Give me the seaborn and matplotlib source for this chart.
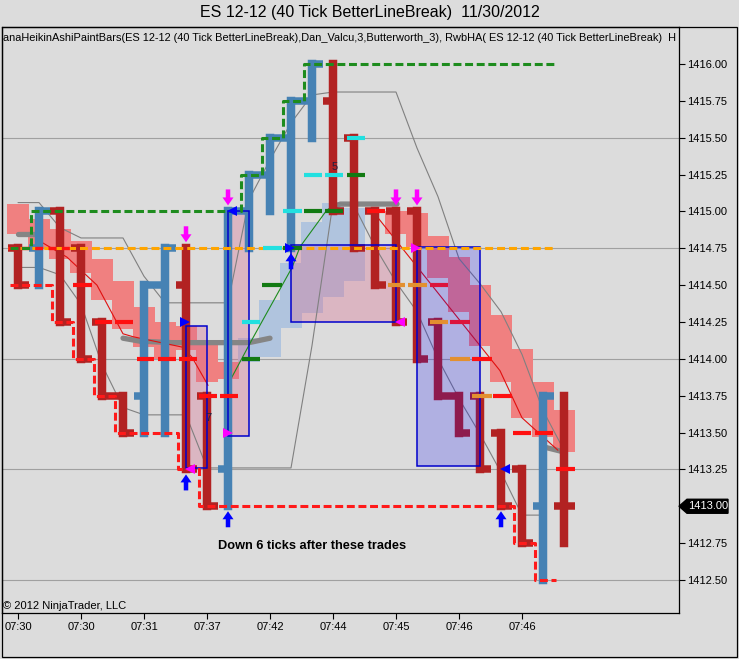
import matplotlib
matplotlib.use("Agg")
import matplotlib.pyplot as plt
import matplotlib.transforms as mtransforms
from matplotlib.patches import Rectangle, Polygon, FancyArrow
import numpy as np
import pandas as pd
import seaborn as sns

# ------------------------------------------------------------------ data
TITLE = "ES 12-12 (40 Tick BetterLineBreak)  11/30/2012"
INDICATOR_LABEL = ("anaHeikinAshiPaintBars(ES 12-12 (40 Tick BetterLineBreak),Dan_Valcu,3,"
                   "Butterworth_3), RwbHA( ES 12-12 (40 Tick BetterLineBreak)  H")
NOTE = "Down 6 ticks after these trades"
NOTE_BAR, NOTE_PRICE = 9.52, 1412.73
COPYRIGHT = "\u00a9 2012 NinjaTrader, LLC"
LAST_PRICE = 1413.00

bar_index = list(range(27))
bar_open = [1414.75, 1414.75, 1415.00, 1414.75, 1414.25, 1413.75, 1413.75, 1414.50, 1414.50,
            1413.75, 1413.25, 1415.00, 1415.25, 1415.50, 1415.75, 1415.75, 1415.50, 1415.00,
            1415.00, 1415.00, 1414.25, 1413.75, 1413.75, 1413.50, 1413.25, 1413.00, 1413.00]
bar_high = [1414.75, 1415.00, 1415.00, 1414.75, 1414.25, 1413.75, 1414.50, 1414.75, 1414.75,
            1413.75, 1415.00, 1415.25, 1415.50, 1415.75, 1416.00, 1416.00, 1415.50, 1415.00,
            1415.00, 1415.00, 1414.25, 1413.75, 1413.75, 1413.50, 1413.25, 1413.75, 1413.75]
bar_low = [1414.50, 1414.50, 1414.25, 1414.00, 1413.75, 1413.50, 1413.50, 1413.50, 1413.25,
           1413.00, 1413.00, 1414.75, 1415.00, 1414.75, 1415.50, 1415.00, 1414.75, 1414.50,
           1414.25, 1414.00, 1413.75, 1413.50, 1413.25, 1413.00, 1412.75, 1412.50, 1412.75]
bar_close = [1414.50, 1415.00, 1414.25, 1414.00, 1413.75, 1413.50, 1414.50, 1414.75, 1413.25,
             1413.00, 1415.00, 1415.25, 1415.50, 1415.75, 1416.00, 1415.00, 1414.75, 1414.50,
             1414.25, 1414.00, 1413.75, 1413.50, 1413.25, 1413.00, 1412.75, 1413.75, 1413.00]
bar_dir = ["down", "up", "down", "down", "down", "down", "up", "up", "down", "down", "up", "up",
           "up", "up", "up", "down", "down", "down", "down", "down", "down", "down", "down",
           "down", "down", "up", "down"]

# Heikin-Ashi bodies (smoothed) per bar
ha_top = [1415.05, 1414.95, 1414.88, 1414.80, 1414.68, 1414.53, 1414.35, 1414.25, 1414.22,
          1414.12, 1413.98, 1414.14, 1414.40, 1414.65, 1414.93, 1415.06, 1415.02, np.nan,
          1415.00, 1414.99, 1414.83, 1414.69, 1414.50, 1414.30, 1414.07, 1413.84, 1413.65]
ha_bottom = [1414.85, 1414.75, 1414.68, 1414.58, 1414.40, 1414.20, 1414.08, 1414.00, 1414.06,
             1413.84, 1413.86, 1413.98, 1414.01, 1414.21, 1414.31, 1414.42, 1414.53, np.nan,
             1414.85, 1414.76, 1414.55, 1414.32, 1414.09, 1413.84, 1413.60, 1413.47, 1413.37]
ha_dir = ["down", "down", "down", "down", "down", "down", "down", "down", "down", "down", "down",
          "up", "up", "up", "up", "up", "up", "none",
          "down", "down", "down", "down", "down", "down", "down", "down", "down"]

# trailing stops (bars 0..25)
green_stop = [1414.75, 1415.00, 1415.00, 1415.00, 1415.00, 1415.00, 1415.00, 1415.00, 1415.00,
              1415.00, 1415.00, 1415.25, 1415.50, 1415.75, 1416.00, 1416.00, 1416.00, 1416.00,
              1416.00, 1416.00, 1416.00, 1416.00, 1416.00, 1416.00, 1416.00, 1416.00]
red_stop = [1414.50, 1414.50, 1414.25, 1414.00, 1413.75, 1413.50, 1413.50, 1413.50, 1413.25,
            1413.00, 1413.00, 1413.00, 1413.00, 1413.00, 1413.00, 1413.00, 1413.00, 1413.00,
            1413.00, 1413.00, 1413.00, 1413.00, 1413.00, 1413.00, 1412.75, 1412.50]
orange_level = 1414.75

# thin smoothing lines
gray_upper = [1415.06, 1415.06, 1414.89, 1414.82, 1414.82, 1414.82, 1414.56, 1414.38, 1414.38,
              1414.38, 1414.38, 1415.08, 1415.35, 1415.60, 1415.79, 1415.81, 1415.81, 1415.81,
              1415.81, 1415.43, 1415.10, 1414.68, 1414.51, 1414.32, 1414.03, 1413.65, 1413.38]
gray_lower = [1414.62, 1414.62, 1414.57, 1414.37, 1413.96, 1413.67, 1413.62, 1413.62, 1413.62,
              1413.26, 1413.26, 1413.26, 1413.26, 1413.26, 1414.09, 1415.06, 1415.04, 1414.76,
              1414.52, 1414.32, 1414.00, 1413.73, 1413.49, 1413.23, 1412.94, 1412.94]
red_thin_left_x = [0.9, 2.33, 3.76, 5.0, 5.48, 7.81, 8.29, 9.05]
red_thin_left_y = [1414.81, 1414.69, 1414.50, 1414.17, 1414.15, 1414.08, 1414.01, 1413.82]
red_thin_right_x = [16.9, 22.95, 24.0, 25.71]
red_thin_right_y = [1415.00, 1413.92, 1413.60, 1413.38]
green_thin_x = [10.05, 11.14, 13.05, 13.43, 14.71, 15.05]
green_thin_y = [1413.84, 1414.13, 1414.62, 1414.76, 1415.01, 1415.04]

# thick gray flat segments
thick_gray_x = [[0.0, 0.9], [5.0, 5.8, 7.3, 11.0, 12.0], [15.0, 15.35, 18.05], [25.1, 25.95]]
thick_gray_y = [[1414.85, 1414.85], [1414.14, 1414.12, 1414.11, 1414.11, 1414.14],
                [1415.03, 1415.05, 1415.05], [1413.40, 1413.37]]

# trade rectangles
rect_x0 = [8, 10, 13, 19]
rect_x1 = [9, 11, 18, 22]
rect_low = [1413.26, 1413.48, 1414.25, 1413.27]
rect_high = [1414.22, 1415.00, 1414.77, 1414.76]
rect_side = ["long", "long", "long", "short"]

# signal arrows
sell_arrow_bars = [8, 10, 18, 19]
buy_arrow_bars = [8, 10, 13, 23]

# small entry / exit triangles
tri_x = [7.93, 10.21, 12.93, 23.17, 9.98, 8.21, 18.17, 18.93]
tri_y = [1414.25, 1415.00, 1414.75, 1413.25, 1413.50, 1413.25, 1414.25, 1414.75]
tri_dir = ["right", "left", "right", "left", "right", "left", "left", "right"]
tri_kind = ["entry", "entry", "entry", "entry", "exit", "exit", "exit", "exit"]

# short level markers
mk_level = [1414.75, 1414.50, 1414.25, 1414.25, 1414.00, 1414.00, 1414.00, 1413.75, 1413.75,
            1414.25, 1414.00, 1414.75, 1414.50, 1415.00, 1414.75, 1415.25, 1415.25, 1415.00,
            1415.00, 1415.50, 1415.25, 1415.00, 1414.50, 1414.50, 1414.50, 1414.25, 1414.25,
            1414.00, 1414.00, 1413.75, 1413.75, 1413.50, 1413.50, 1413.25]
mk_x0 = [-0.48, 2.62, 3.67, 4.62, 5.67, 6.67, 7.67, 8.62, 9.62,
         10.67, 10.67, 11.67, 11.62, 12.62, 12.62, 13.62, 14.62, 13.62,
         14.62, 15.67, 15.67, 16.62, 17.62, 18.57, 19.62, 19.62, 20.57,
         20.57, 21.62, 21.62, 22.62, 23.57, 24.62, 25.62]
mk_x1 = [2.48, 3.52, 4.48, 5.48, 6.48, 7.52, 8.52, 9.48, 10.48,
         11.52, 11.52, 12.57, 12.57, 13.52, 13.52, 14.48, 15.48, 14.48,
         15.48, 16.52, 16.52, 17.48, 18.43, 19.48, 20.48, 20.48, 21.52,
         21.52, 22.57, 22.57, 23.52, 24.43, 25.48, 26.52]
mk_kind = ["reddash", "red", "red", "red", "red", "red", "red", "red", "red",
           "cyan", "green", "cyan", "green", "cyan", "green", "cyan", "cyan", "green",
           "green", "cyan", "green", "red", "orange", "orange", "crimson", "orange", "crimson",
           "orange", "red", "orange", "red", "red", "red", "red"]

label_text = ["7", "5"]
label_x = [9.05, 15.07]
label_y = [1413.60, 1415.30]

time_tick_bars = [0, 3, 6, 9, 12, 15, 18, 21, 24]
time_tick_labels = ["07:30", "07:30", "07:31", "07:37", "07:42", "07:44", "07:45", "07:46", "07:46"]
price_ticks = [1412.50, 1412.75, 1413.00, 1413.25, 1413.50, 1413.75, 1414.00, 1414.25,
               1414.50, 1414.75, 1415.00, 1415.25, 1415.50, 1415.75, 1416.00]
grid_levels = [1412.50, 1413.25, 1414.00, 1414.75, 1415.50]

# ------------------------------------------------------------------ style
W, H, DPI = 739, 659, 100
BG = "#DCDCDC"
sns.set_theme(style="white")
plt.rcParams["font.family"] = ["Liberation Sans", "DejaVu Sans"]

BAR_COL = {"up": "#4682B4", "down": "#B22222"}
HA_COL = {"up": "#B0C4DE", "down": "#F08080"}
MK_COL = {"red": "#FF1010", "reddash": "#FF1010", "crimson": "#DC143C", "orange": "#E39030",
          "cyan": "#22E0E0", "green": "#127A12"}

fig = plt.figure(figsize=(W / DPI, H / DPI), dpi=DPI, facecolor=BG)
# plot box: x 2..679 px, y 27..613 px
ax = fig.add_axes([2 / W, (H - 613) / H, 677 / W, 586 / H])
ax.set_facecolor(BG)
ax.set_xlim(-0.762, 31.476)
ax.set_ylim(1412.276, 1416.251)
PXX = 1 / 21.0          # bar-index units per pixel
PXY = 0.25 / 36.86      # price units per pixel

# grid
for g in grid_levels:
    ax.axhline(g, color="#A0A0A0", lw=0.8, zorder=1)

# Heikin-Ashi bodies
ha = pd.DataFrame(dict(i=bar_index, top=ha_top, bot=ha_bottom, d=ha_dir)).dropna()
for d, sub in ha.groupby("d"):
    ax.bar(sub["i"], sub["top"] - sub["bot"], bottom=sub["bot"], width=1.03,
           color=HA_COL[d], linewidth=0, zorder=2)

# trade rectangles
for x0, x1, lo, hi, side in zip(rect_x0, rect_x1, rect_low, rect_high, rect_side):
    if side == "long":
        ax.add_patch(Rectangle((x0, lo), x1 - x0, hi - lo, facecolor="#DB7093",
                               alpha=0.35, edgecolor="none", zorder=3))
    else:
        ax.add_patch(Rectangle((x0, lo), x1 - x0, hi - lo, facecolor="#0000FF",
                               alpha=0.2, edgecolor="none", zorder=5.5))
    ax.add_patch(Rectangle((x0, lo), x1 - x0, hi - lo, facecolor="none",
                           edgecolor="#0000CC", lw=1.1, zorder=6))

# thin lines
sns.lineplot(x=bar_index, y=gray_upper, ax=ax, color="#808080", lw=0.8, zorder=4.5)
sns.lineplot(x=bar_index[:len(gray_lower)], y=gray_lower, ax=ax, color="#808080", lw=0.8,
             zorder=4.5)
ax.plot(red_thin_left_x, red_thin_left_y, color="#E01010", lw=0.8, zorder=4.5)
ax.plot(red_thin_right_x, red_thin_right_y, color="#E01010", lw=0.8, zorder=4.5)
ax.plot(green_thin_x, green_thin_y, color="#1E8C1E", lw=0.8, zorder=4.5)

# thick gray flat segments
for xs, ys in zip(thick_gray_x, thick_gray_y):
    ax.plot(xs, ys, color="#858585", lw=3.8, solid_capstyle="round", zorder=4)

# bars: thick OHLC (body + open tick left + close tick right)
bars = pd.DataFrame(dict(i=bar_index, o=bar_open, h=bar_high, l=bar_low, c=bar_close,
                         d=bar_dir))
for d, sub in bars.groupby("d"):
    col = BAR_COL[d]
    ax.vlines(sub["i"], sub["l"], sub["h"], colors=col, lw=6.1, capstyle="projecting",
              zorder=5)
    ax.hlines(sub["o"], sub["i"] - 0.5, sub["i"], colors=col, lw=5.4, zorder=5)
    ax.hlines(sub["c"], sub["i"], sub["i"] + 0.5, colors=col, lw=5.4, zorder=5)

# orange level line
ax.hlines(orange_level, bar_index[0] - 0.5, len(red_stop) - 1 + 0.6, colors="#FFA500",
          lw=2.2, linestyles=(0, (2.6, 1.3)), zorder=6.5)

# level markers
for lv, x0, x1, k in zip(mk_level, mk_x0, mk_x1, mk_kind):
    if k == "reddash":
        ax.plot([x0, x1], [lv, lv], color=MK_COL[k], lw=2.4, dashes=(2.4, 1.6), zorder=6.6)
    else:
        ax.plot([x0, x1], [lv, lv], color=MK_COL[k], lw=3.0, solid_capstyle="butt", zorder=6.6)

# trailing stop step lines
def step_line(values, color):
    xs = [i - 0.4 for i in range(len(values))] + [len(values) - 1 + 0.6]
    ys = list(values) + [values[-1]]
    ax.plot(xs, ys, drawstyle="steps-post", color=color, lw=2.2, dashes=(2.6, 1.2),
            zorder=7)

step_line(green_stop, "#1E8C1E")
step_line(red_stop, "#FF1A1A")

# signal arrows
for b in sell_arrow_bars:
    tip = bar_high[b] + 6 * PXY
    ax.add_patch(FancyArrow(b, tip + 16 * PXY, 0, -16 * PXY, width=4.5 * PXX,
                            head_width=11 * PXX, head_length=8 * PXY,
                            length_includes_head=True, color="#FF00FF", lw=0, zorder=8))
for b in buy_arrow_bars:
    tip = bar_low[b] - 5 * PXY
    ax.add_patch(FancyArrow(b, tip - 16 * PXY, 0, 16 * PXY, width=4.5 * PXX,
                            head_width=11 * PXX, head_length=8 * PXY,
                            length_includes_head=True, color="#0000FF", lw=0, zorder=8))

# entry / exit triangles
for x, y, dr, k in zip(tri_x, tri_y, tri_dir, tri_kind):
    ax.plot([x], [y], marker=">" if dr == "right" else "<", ms=6.5,
            color="#0000FF" if k == "entry" else "#FF00FF", mew=0, zorder=8)

for t, x, y in zip(label_text, label_x, label_y):
    ax.text(x, y, t, fontsize=8, color="#202040", ha="center", va="center", zorder=8)

ax.text(NOTE_BAR, NOTE_PRICE, NOTE, fontsize=9.2, fontweight="bold", color="black",
        ha="left", va="center", zorder=9)
ax.text(0.002, 0.012, COPYRIGHT, transform=ax.transAxes, fontsize=8, color="black",
        ha="left", va="center", zorder=9)
ax.text(0.002, 0.981, INDICATOR_LABEL, transform=ax.transAxes, fontsize=7.95, color="black",
        ha="left", va="center", zorder=9, clip_on=True)

# axes, ticks
ax.grid(False)
for s in ax.spines.values():
    s.set_visible(True)
    s.set_color("black")
    s.set_linewidth(0.9)
ax.yaxis.tick_right()
ax.set_yticks(price_ticks)
ax.set_yticklabels([f"{p:.2f}" for p in price_ticks])
ax.tick_params(axis="y", which="both", direction="out", length=4.3, width=0.8, pad=1.2,
               labelsize=8, colors="black", left=False, right=True, labelright=True,
               labelleft=False)
ax.set_xticks(time_tick_bars)
ax.set_xticklabels(time_tick_labels)
ax.tick_params(axis="x", direction="out", length=4.3, width=0.8, pad=2.0, labelsize=8,
               colors="black", bottom=True)

# last price marker on the price axis
bt = mtransforms.blended_transform_factory(ax.transAxes, ax.transData)
ax_w = 677.0
marker_pts = [(1.0, LAST_PRICE), (1 + 8 / ax_w, LAST_PRICE + 7 * PXY),
              (1 + 49 / ax_w, LAST_PRICE + 7 * PXY), (1 + 49 / ax_w, LAST_PRICE - 7 * PXY),
              (1 + 8 / ax_w, LAST_PRICE - 7 * PXY)]
ax.add_patch(Polygon(marker_pts, closed=True, transform=bt, facecolor="black",
                     edgecolor="black", clip_on=False, zorder=10))
ax.text(1 + 9 / ax_w, LAST_PRICE, f"{LAST_PRICE:.2f}", transform=bt, fontsize=8,
        color="white", ha="left", va="center", clip_on=False, zorder=11)

# title and outer frame
fig.text(0.5, 1 - 13 / H, TITLE, fontsize=11.5, ha="center", va="center", color="black")
fig.add_artist(Rectangle((2 / W, 2 / H), 735 / W, 630 / H, transform=fig.transFigure,
                         fill=False, edgecolor="black", lw=0.9))

fig.savefig("out.png", dpi=DPI, facecolor=BG)
